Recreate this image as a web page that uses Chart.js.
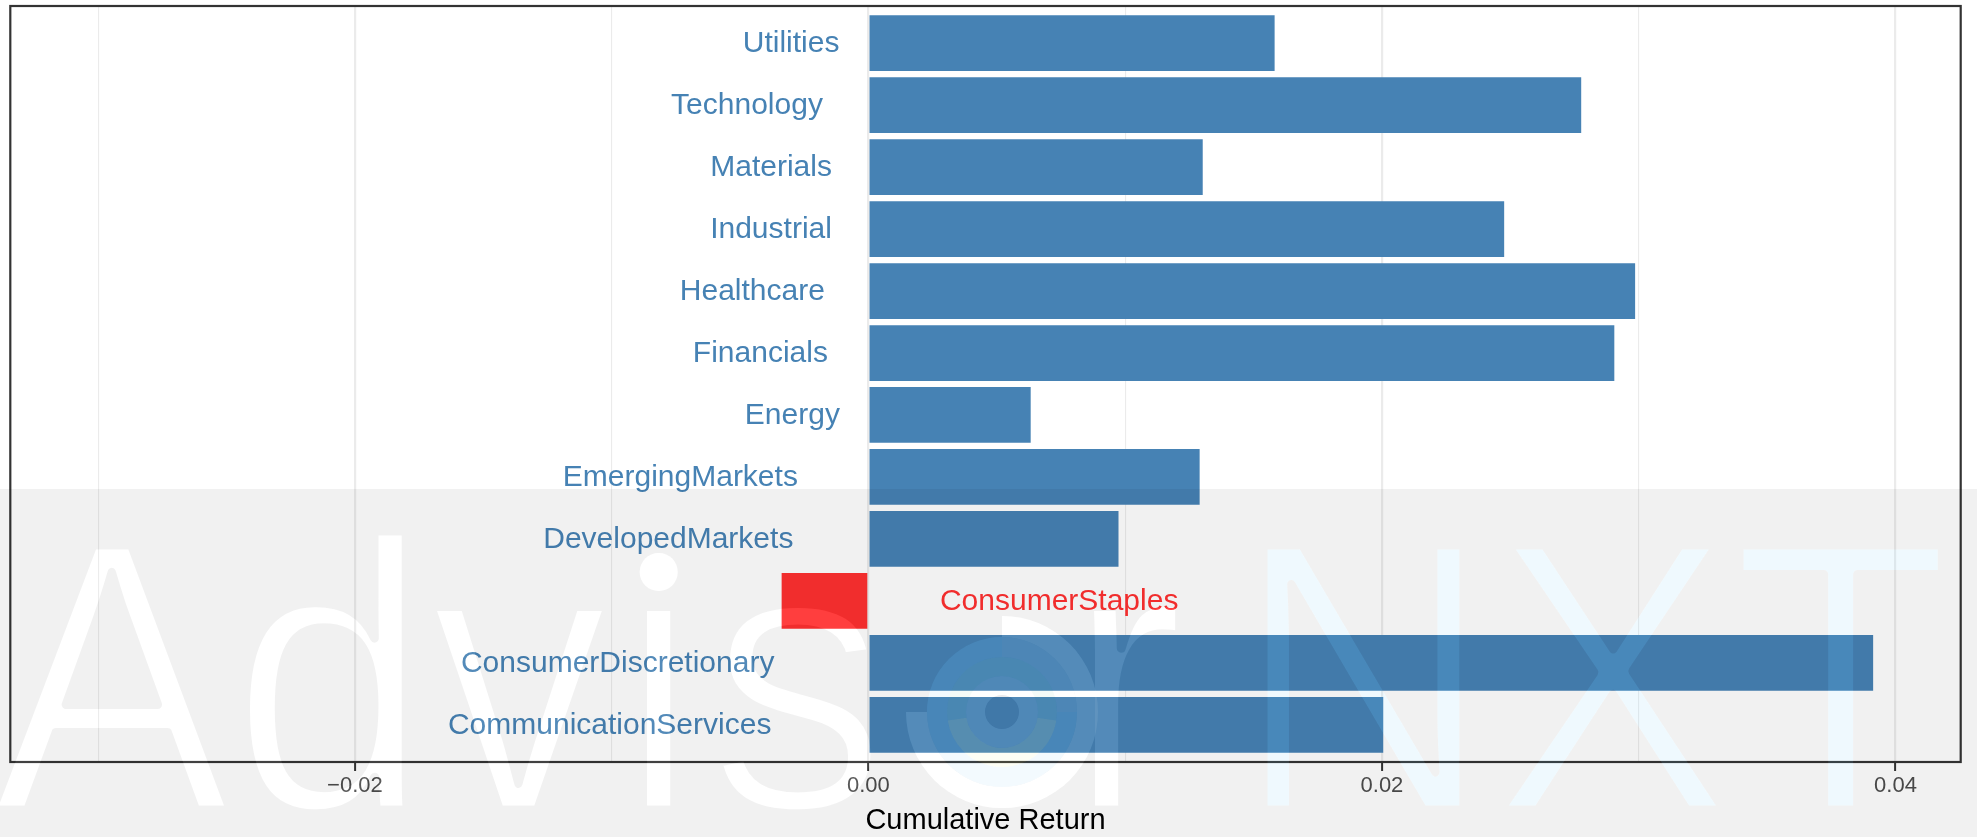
<!DOCTYPE html>
<html>
<head>
<meta charset="utf-8">
<title>Cumulative Return by Sector</title>
<script src="https://cdn.jsdelivr.net/npm/chart.js@4.4.1/dist/chart.umd.min.js"></script>
<style>
    html, body { margin: 0; padding: 0; background: #fff; overflow: hidden; }
    #wrap { position: relative; width: 1977px; height: 837px; }
</style>
</head>
<body>
<div id="wrap"><canvas id="sectorReturns"></canvas></div>
<script>
/* ============================================================
   sector_returns.js
   Cumulative return by sector, labels inside the panel,
   AdvisorNXT watermark laid over the lower half
============================================================ */

// bottom -> top, same order as the factor levels
const sectors = [
    'CommunicationServices', 'ConsumerDiscretionary', 'ConsumerStaples',
    'DevelopedMarkets', 'EmergingMarkets', 'Energy', 'Financials',
    'Healthcare', 'Industrial', 'Materials', 'Technology', 'Utilities'
];
const cumulativeReturns = [
    0.02005, 0.03913, -0.00338,
    0.00974, 0.01290, 0.00632, 0.02905,
    0.02986, 0.02476, 0.01302, 0.02776, 0.01582
];
const xTickValues = [-0.03, -0.02, -0.01, 0, 0.01, 0.02, 0.03, 0.04];
const xTickLabels = ['', '\u22120.02', '', '0.00', '', '0.02', '', '0.04'];

const POS_COLOR = '#4682B4';
const NEG_COLOR = '#FF3030';
const GRID_COLOR = '#EBEBEB';
const FONT = '"Liberation Sans", Arial, Helvetica, sans-serif';

// watermark type setup
const WM_FONT = '385px ' + FONT;
const WM_SCALE_X = 0.93;
const WM_BASE = 810;
const WM_ERODE = 4.5;

let sectorChart = null;

function isMajorTick(i) {
    return xTickLabels[i] !== '';
}

const sectorLabelsPlugin = {
    id: 'sectorLabels',
    afterDatasetsDraw(chart) {
        const { ctx, scales: { x, y } } = chart;
        const x0 = x.getPixelForValue(0);

        ctx.save();
        ctx.font = '30px ' + FONT;
        ctx.textBaseline = 'middle';

        sectors.forEach((name, i) => {
            const v = cumulativeReturns[i];
            const w = ctx.measureText(name).width;
            const yPx = y.getPixelForValue(i) + 1;
            // hjust 1.3 / -0.3 around zero
            if (v < 0) {
                ctx.fillStyle = NEG_COLOR;
                ctx.textAlign = 'left';
                ctx.fillText(name, x0 + 0.3 * w, yPx);
            } else {
                ctx.fillStyle = POS_COLOR;
                ctx.textAlign = 'right';
                ctx.fillText(name, x0 - 0.3 * w, yPx);
            }
        });
        ctx.restore();
    }
};

const panelBorderPlugin = {
    id: 'panelBorder',
    afterDraw(chart) {
        const { ctx, chartArea: a } = chart;
        ctx.save();
        ctx.strokeStyle = '#333333';
        ctx.lineWidth = 2.2;
        ctx.strokeRect(a.left, a.top, a.right - a.left, a.bottom - a.top);
        ctx.restore();
    }
};

/* ---------- watermark helpers ---------- */

function newLayer(w, h) {
    const c = document.createElement('canvas');
    c.width = w;
    c.height = h;
    return c;
}

function ring(c, cx, cy, r0, r1, a0 = 0, a1 = Math.PI * 2) {
    c.beginPath();
    c.arc(cx, cy, r1, a0, a1, false);
    c.arc(cx, cy, r0, a1, a0, true);
    c.closePath();
    c.fill();
}

// light-weight letters: fill, then eat the outline away
function wordMask(w, h, words) {
    const m = newLayer(w, h);
    const c = m.getContext('2d');
    c.font = WM_FONT;
    c.textBaseline = 'alphabetic';
    c.save();
    c.scale(WM_SCALE_X, 1);
    c.fillStyle = '#000';
    words.forEach(wd => c.fillText(wd.text, wd.x / WM_SCALE_X, WM_BASE));
    c.globalCompositeOperation = 'destination-out';
    c.strokeStyle = '#000';
    c.lineJoin = 'round';
    c.lineWidth = WM_ERODE * 2;
    words.forEach(wd => c.strokeText(wd.text, wd.x / WM_SCALE_X, WM_BASE));
    c.restore();
    return m;
}

function tinted(mask, color) {
    const t = newLayer(mask.width, mask.height);
    const c = t.getContext('2d');
    c.drawImage(mask, 0, 0);
    c.globalCompositeOperation = 'source-in';
    c.fillStyle = color;
    c.fillRect(0, 0, t.width, t.height);
    return t;
}

const watermarkPlugin = {
    id: 'watermark',
    afterDraw(chart) {
        const { ctx, width, height } = chart;
        const bandTop = 489;
        const cx = 1002, cy = 712;
        const PI = Math.PI;

        const whiteWords = [
            { text: 'Adv\u0131s', x: -8 },
            { text: 'r', x: 1066 }
        ];
        const nxtWords = [{ text: 'NXT', x: 1234 }];

        const whiteMask = wordMask(width, height, whiteWords);
        const nxtMask = wordMask(width, height, nxtWords);

        // round dot on the dotless i
        const wm = whiteMask.getContext('2d');
        wm.font = WM_FONT;
        const dotX = -8 + (wm.measureText('Adv').width + wm.measureText('\u0131').width / 2) * WM_SCALE_X;
        wm.fillStyle = '#000';
        wm.beginPath();
        wm.arc(dotX, 572, 19, 0, PI * 2);
        wm.fill();

        const band = newLayer(width, height);
        const b = band.getContext('2d');
        b.fillStyle = 'rgba(0,0,0,0.055)';
        b.fillRect(0, bandTop, width, height - bandTop);

        // punch letters and logo out of the band
        b.globalCompositeOperation = 'destination-out';
        b.drawImage(whiteMask, 0, 0);
        b.drawImage(nxtMask, 0, 0);
        b.fillStyle = '#000';
        ring(b, cx, cy, 17, 75);
        ring(b, cx, cy, 75, 96, -PI / 2, PI);

        b.globalCompositeOperation = 'source-over';
        b.drawImage(tinted(whiteMask, 'rgba(255,255,255,0.07)'), 0, 0);
        b.drawImage(tinted(nxtMask, 'rgba(100,200,245,0.10)'), 0, 0);

        // logo in place of the "o"
        b.fillStyle = 'rgba(255,255,255,0.08)';
        ring(b, cx, cy, 75, 96, -PI / 2, PI);
        b.fillStyle = 'rgba(100,190,240,0.08)';
        ring(b, cx, cy, 55, 75, 0, PI * 1.5);
        b.fillStyle = 'rgba(255,255,255,0.04)';
        ring(b, cx, cy, 55, 75, -PI / 2, 0);
        b.fillStyle = 'rgba(120,200,170,0.08)';
        ring(b, cx, cy, 36, 55, PI * 0.95, PI * 2.05);
        b.fillStyle = 'rgba(240,245,150,0.10)';
        ring(b, cx, cy, 36, 55, PI * 0.05, PI * 0.95);
        b.fillStyle = 'rgba(255,255,255,0.05)';
        ring(b, cx, cy, 17, 36);
        b.fillStyle = 'rgba(0,30,80,0.03)';
        b.beginPath();
        b.arc(cx, cy, 17, 0, PI * 2);
        b.fill();

        ctx.save();
        ctx.drawImage(band, 0, 0);
        ctx.restore();
    }
};

function createSectorChart() {
    const canvas = document.getElementById('sectorReturns');
    const ctx = canvas.getContext('2d');

    sectorChart = new Chart(ctx, {
        type: 'bar',
        data: {
            datasets: [{
                data: cumulativeReturns.map((v, i) => ({ x: v, y: i })),
                backgroundColor: cumulativeReturns.map(v => v < 0 ? NEG_COLOR : POS_COLOR),
                borderWidth: 0,
                barPercentage: 0.9,
                categoryPercentage: 1.0
            }]
        },
        options: {
            indexAxis: 'y',
            responsive: true,
            maintainAspectRatio: false,
            animation: false,
            layout: { padding: { left: 10.3, right: 16.3, top: 6, bottom: 0 } },
            plugins: {
                legend: { display: false },
                tooltip: { enabled: false }
            },
            scales: {
                y: {
                    type: 'linear',
                    min: -0.6,
                    max: sectors.length - 0.4,
                    offset: false,
                    display: false,
                    // one tick per sector so bar width follows the row spacing
                    afterBuildTicks: scale => {
                        scale.ticks = sectors.map((s, i) => ({ value: i }));
                    }
                },
                x: {
                    type: 'linear',
                    min: -0.03342,
                    max: 0.04254,
                    afterBuildTicks: scale => {
                        scale.ticks = xTickValues.map(v => ({ value: v }));
                    },
                    afterFit: scale => { scale.height = 75; },
                    border: { display: false },
                    grid: {
                        color: GRID_COLOR,
                        lineWidth: c => isMajorTick(c.index) ? 2.2 : 1.1,
                        drawTicks: true,
                        tickLength: 9,
                        tickWidth: 2,
                        tickColor: c => isMajorTick(c.index) ? '#333333' : 'rgba(0,0,0,0)'
                    },
                    ticks: {
                        autoSkip: false,
                        maxRotation: 0,
                        padding: 2,
                        color: '#4D4D4D',
                        font: { family: FONT, size: 22 },
                        callback: (value, i) => xTickLabels[i]
                    },
                    title: {
                        display: true,
                        text: 'Cumulative Return',
                        color: '#000000',
                        font: { family: FONT, size: 29 },
                        padding: { top: 0, bottom: -1 }
                    }
                }
            }
        },
        plugins: [sectorLabelsPlugin, panelBorderPlugin, watermarkPlugin]
    });
}

createSectorChart();
</script>
</body>
</html>
